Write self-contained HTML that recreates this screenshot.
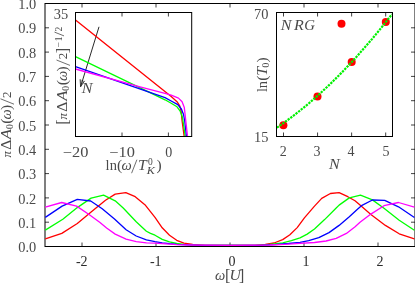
<!DOCTYPE html>
<html><head><meta charset="utf-8"><title>fig</title>
<style>
html,body{margin:0;padding:0;background:#fff;}
svg{display:block;will-change:transform;font-family:"Liberation Serif",serif;font-size:13px;fill:#4a4a4a;}
.it{font-style:italic;}
.c{fill:none;stroke-width:1.3;stroke-linejoin:round;}
.ax{fill:none;stroke:#000;stroke-width:1;}
.tk line{stroke:#000;stroke-width:0.75;}
</style></head><body>
<svg width="415" height="283" viewBox="0 0 415 283">
<rect x="0" y="0" width="415" height="283" fill="#fff"/>
<g class="tk"><line x1="45.0" y1="222.20" x2="49.0" y2="222.20"/><line x1="415.0" y1="222.20" x2="411.0" y2="222.20"/><line x1="45.0" y1="197.90" x2="49.0" y2="197.90"/><line x1="415.0" y1="197.90" x2="411.0" y2="197.90"/><line x1="45.0" y1="173.60" x2="49.0" y2="173.60"/><line x1="415.0" y1="173.60" x2="411.0" y2="173.60"/><line x1="45.0" y1="149.30" x2="49.0" y2="149.30"/><line x1="415.0" y1="149.30" x2="411.0" y2="149.30"/><line x1="45.0" y1="125.00" x2="49.0" y2="125.00"/><line x1="415.0" y1="125.00" x2="411.0" y2="125.00"/><line x1="45.0" y1="100.70" x2="49.0" y2="100.70"/><line x1="415.0" y1="100.70" x2="411.0" y2="100.70"/><line x1="45.0" y1="76.40" x2="49.0" y2="76.40"/><line x1="415.0" y1="76.40" x2="411.0" y2="76.40"/><line x1="45.0" y1="52.10" x2="49.0" y2="52.10"/><line x1="415.0" y1="52.10" x2="411.0" y2="52.10"/><line x1="45.0" y1="27.80" x2="49.0" y2="27.80"/><line x1="415.0" y1="27.80" x2="411.0" y2="27.80"/><line x1="82" y1="246.5" x2="82" y2="242.5"/><line x1="82" y1="3.5" x2="82" y2="7.5"/><line x1="156" y1="246.5" x2="156" y2="242.5"/><line x1="156" y1="3.5" x2="156" y2="7.5"/><line x1="230" y1="246.5" x2="230" y2="242.5"/><line x1="230" y1="3.5" x2="230" y2="7.5"/><line x1="304" y1="246.5" x2="304" y2="242.5"/><line x1="304" y1="3.5" x2="304" y2="7.5"/><line x1="378" y1="246.5" x2="378" y2="242.5"/><line x1="378" y1="3.5" x2="378" y2="7.5"/><line x1="122" y1="136.5" x2="122" y2="132.5"/><line x1="122" y1="12.5" x2="122" y2="16.5"/><line x1="168.4" y1="136.5" x2="168.4" y2="132.5"/><line x1="168.4" y1="12.5" x2="168.4" y2="16.5"/><line x1="283.5" y1="136.5" x2="283.5" y2="132.5"/><line x1="283.5" y1="12.5" x2="283.5" y2="16.5"/><line x1="317.57" y1="136.5" x2="317.57" y2="132.5"/><line x1="317.57" y1="12.5" x2="317.57" y2="16.5"/><line x1="351.63" y1="136.5" x2="351.63" y2="132.5"/><line x1="351.63" y1="12.5" x2="351.63" y2="16.5"/><line x1="385.7" y1="136.5" x2="385.7" y2="132.5"/><line x1="385.7" y1="12.5" x2="385.7" y2="16.5"/></g>
<rect class="ax" x="45.0" y="3.5" width="370.0" height="243.0"/>
<!-- main curves -->
<polyline class="c" stroke="#ff0000" points="45.3,238.8 61.8,233.4 77.3,223.5 91.1,211.9 105.5,200.2 115.2,194.1 125.8,192.6 135.2,196.7 144.9,204.7 155.0,217.4 162.2,227.8 169.5,235.2 176.7,240.3 184.0,243.1 192.7,244.5 205.0,245.3 230.0,245.4 255.0,245.3 265.3,244.3 274.0,243.0 282.7,239.6 289.9,234.8 297.2,227.6 304.4,217.9 314.5,206.1 321.7,198.4 330.4,193.5 339.1,192.6 347.8,196.7 355.0,200.8 360.0,205.1 370.9,214.4 385.4,225.4 399.2,233.8 414.4,238.9"/>
<polyline class="c" stroke="#00ff00" points="45.3,230.1 62.8,219.2 77.3,207.6 91.1,198.1 103.6,195.2 115.2,200.8 123.2,208.0 136.2,221.8 146.4,231.2 150.5,233.4 155.0,235.2 162.2,239.4 169.5,241.9 176.7,243.5 184.0,244.4 192.7,245.0 205.0,245.3 230.0,245.4 255.0,245.3 265.0,244.9 274.0,243.9 282.7,242.8 291.4,240.6 300.0,237.8 307.2,234.1 314.5,229.0 324.6,219.6 336.2,208.0 339.1,205.1 349.3,197.9 360.5,195.2 372.4,199.9 384.0,208.3 399.2,220.3 414.4,230.2"/>
<polyline class="c" stroke="#0000ff" points="45.3,217.4 62.1,206.1 77.3,199.3 90.7,201.0 102.2,208.7 114.5,218.9 126.1,229.7 136.2,236.0 146.4,239.9 155.0,241.6 162.2,242.8 169.5,243.7 176.7,244.3 184.0,244.7 200.0,245.3 230.0,245.4 260.0,245.3 275.0,244.6 288.5,243.5 300.0,242.3 308.7,240.6 318.8,237.7 329.0,232.6 339.1,225.4 349.3,216.7 358.0,208.7 361.5,205.7 372.4,200.0 384.7,200.3 398.5,206.8 414.4,217.5"/>
<polyline class="c" stroke="#ff00ff" points="45.3,207.1 61.7,202.5 76.6,206.1 89.4,214.8 100.0,222.5 106.6,228.0 115.2,234.1 126.1,239.2 136.2,241.6 146.4,242.8 155.0,243.2 162.2,243.7 169.5,244.2 176.7,244.6 190.0,245.0 230.0,245.4 270.0,245.0 285.0,244.4 300.0,243.3 314.5,242.5 326.1,241.0 336.2,238.4 346.4,233.4 355.1,226.8 360.0,222.3 370.9,214.1 384.0,205.7 398.5,202.5 414.4,207.1"/>
<!-- inset 1 -->
<line x1="99" y1="26.8" x2="80.6" y2="86.7" stroke="#111" stroke-width="0.9"/>
<path d="M80.1,79.3 L80.6,86.7 L84.6,80.9" fill="#222" fill-opacity="0.35" stroke="#222" stroke-width="0.8"/>
<polyline class="c" stroke="#ff0000" points="75.5,20.1 171.2,96.6 177.0,101.7 179.9,106.1 181.2,112.0 182.1,121.0 184.1,136.0"/>
<polyline class="c" stroke="#00ff00" points="75.5,56.6 165.0,99.8 171.2,103.2 177.0,106.8 180.2,111.2 182.1,116.2 183.0,121.0 185.2,136.0"/>
<polyline class="c" stroke="#0000ff" points="75.5,66.7 165.0,97.6 171.2,101.0 177.8,104.6 181.4,109.0 183.6,114.8 184.7,121.0 186.4,136.0"/>
<polyline class="c" stroke="#ff00ff" points="75.5,69.0 140.0,86.8 165.0,93.4 171.2,95.2 178.5,98.1 182.1,101.7 184.3,107.5 185.4,117.4 185.8,121.0 187.5,136.0"/>
<rect class="ax" x="75.5" y="12.5" width="116.2" height="124"/>
<text class="it" transform="translate(87.0,93.0) scale(1.15,1)" text-anchor="middle" font-size="14">N</text>
<!-- inset 2 -->
<g fill="#ff0000"><circle cx="283.4" cy="125.2" r="4"/><circle cx="317.5" cy="96.4" r="4"/><circle cx="351.7" cy="62" r="4"/><circle cx="385.8" cy="22" r="4"/><circle cx="341.5" cy="23.7" r="4"/></g>
<polyline fill="none" stroke="#00f000" stroke-width="2.2" stroke-dasharray="2.3 1.0" points="276.9,127.6 280.9,124.9 284.8,122.1 288.8,119.2 292.8,116.2 296.7,113.2 300.7,110.0 304.7,106.8 308.7,103.5 312.6,100.1 316.6,96.6 320.6,93.0 324.5,89.4 328.5,85.6 332.5,81.8 336.4,77.9 340.4,73.9 344.4,69.8 348.3,65.6 352.3,61.4 356.3,57.1 360.2,52.6 364.2,48.1 368.2,43.5 372.2,38.9 376.1,34.1 380.1,29.2 384.1,24.3 388.0,19.3 392.0,14.2"/>
<rect class="ax" x="276.5" y="12.5" width="116" height="124"/>
<!-- labels -->
<text x="36.3" y="252.1" text-anchor="end" textLength="18" font-size="14" lengthAdjust="spacingAndGlyphs">0.0</text><text x="36.3" y="227.8" text-anchor="end" textLength="18" font-size="14" lengthAdjust="spacingAndGlyphs">0.1</text><text x="36.3" y="203.5" text-anchor="end" textLength="18" font-size="14" lengthAdjust="spacingAndGlyphs">0.2</text><text x="36.3" y="179.2" text-anchor="end" textLength="18" font-size="14" lengthAdjust="spacingAndGlyphs">0.3</text><text x="36.3" y="154.9" text-anchor="end" textLength="18" font-size="14" lengthAdjust="spacingAndGlyphs">0.4</text><text x="36.3" y="130.6" text-anchor="end" textLength="18" font-size="14" lengthAdjust="spacingAndGlyphs">0.5</text><text x="36.3" y="106.3" text-anchor="end" textLength="18" font-size="14" lengthAdjust="spacingAndGlyphs">0.6</text><text x="36.3" y="82.0" text-anchor="end" textLength="18" font-size="14" lengthAdjust="spacingAndGlyphs">0.7</text><text x="36.3" y="57.7" text-anchor="end" textLength="18" font-size="14" lengthAdjust="spacingAndGlyphs">0.8</text><text x="36.3" y="33.4" text-anchor="end" textLength="18" font-size="14" lengthAdjust="spacingAndGlyphs">0.9</text><text x="36.3" y="9.1" text-anchor="end" textLength="18" font-size="14" lengthAdjust="spacingAndGlyphs">1.0</text>
<text x="81.8" y="266.2" text-anchor="middle" font-size="14" fill="#2a2a2a">-2</text><text x="155.8" y="266.2" text-anchor="middle" font-size="14" fill="#2a2a2a">-1</text><text x="232.0" y="266.2" text-anchor="middle" font-size="14" fill="#2a2a2a">0</text><text x="306.0" y="266.2" text-anchor="middle" font-size="14" fill="#2a2a2a">1</text><text x="380.0" y="266.2" text-anchor="middle" font-size="14" fill="#2a2a2a">2</text>
<g transform="translate(0,279.8)"><text x="220.1" y="0.0" text-anchor="middle" font-size="14.5" class="it">ω</text><text x="227.6" y="1.5" text-anchor="middle" font-size="16.0">[</text><text transform="translate(235.2,0.0) scale(1.12,1)" text-anchor="middle" font-size="14.0" class="it">U</text><text x="241.6" y="1.5" text-anchor="middle" font-size="16.0">]</text></g>
<g transform="translate(10.6,158.1) rotate(-90)"><text transform="translate(3.8,0.0) scale(0.95,1)" text-anchor="middle" font-size="13.5" class="it">π</text><text transform="translate(13.3,0.0) scale(1.12,1)" text-anchor="middle" font-size="14.0">Δ</text><text transform="translate(24.0,0.0) scale(1.18,1)" text-anchor="middle" font-size="14.0" class="it">A</text><text x="31.4" y="2.2" text-anchor="middle" font-size="9.5">0</text><text x="37.0" y="0.6" text-anchor="middle" font-size="15.5">(</text><text x="43.8" y="0.0" text-anchor="middle" font-size="14.5" class="it">ω</text><text x="50.6" y="0.6" text-anchor="middle" font-size="15.5">)</text><line x1="53.9" y1="3.4" x2="59.3" y2="-10.1" stroke="#4a4a4a" stroke-width="0.8"/><text x="63.4" y="0.0" text-anchor="middle" font-size="13.0">2</text></g>
<text x="68.2" y="18.5" text-anchor="end" font-size="14" textLength="14.4" lengthAdjust="spacingAndGlyphs">35</text>
<g transform="translate(66.6,124.0) rotate(-90)"><text x="1.9" y="1.5" text-anchor="middle" font-size="16.0">[</text><text transform="translate(7.7,0.0) scale(0.95,1)" text-anchor="middle" font-size="13.5" class="it">π</text><text transform="translate(17.3,0.0) scale(1.12,1)" text-anchor="middle" font-size="14.0">Δ</text><text transform="translate(28.2,0.0) scale(1.18,1)" text-anchor="middle" font-size="14.0" class="it">A</text><text x="35.7" y="2.2" text-anchor="middle" font-size="9.5">0</text><text x="41.3" y="0.6" text-anchor="middle" font-size="15.5">(</text><text x="48.2" y="0.0" text-anchor="middle" font-size="14.5" class="it">ω</text><text x="55.2" y="0.6" text-anchor="middle" font-size="15.5">)</text><line x1="58.6" y1="3.4" x2="64.0" y2="-10.1" stroke="#4a4a4a" stroke-width="0.8"/><text x="68.1" y="0.0" text-anchor="middle" font-size="13.0">2</text><text x="73.4" y="1.5" text-anchor="middle" font-size="16.0">]</text><text x="79.1" y="-5.0" text-anchor="middle" font-size="9.5">−</text><text x="85.2" y="-5.0" text-anchor="middle" font-size="9.5">1</text><line x1="88.1" y1="-2.6" x2="91.9" y2="-12.1" stroke="#4a4a4a" stroke-width="0.8"/><text x="94.8" y="-5.0" text-anchor="middle" font-size="9.5">2</text></g>
<text x="75.7" y="156.6" text-anchor="middle" font-size="14" textLength="25.6" lengthAdjust="spacingAndGlyphs">−20</text>
<text x="122.2" y="156.6" text-anchor="middle" font-size="14" textLength="25.6" lengthAdjust="spacingAndGlyphs">−10</text>
<text x="168.7" y="156.6" text-anchor="middle" font-size="14">0</text>
<g transform="translate(0,169.8)"><text x="107.5" y="0.0" text-anchor="middle" font-size="14.5">l</text><text x="113.3" y="0.0" text-anchor="middle" font-size="14.5">n</text><text x="119.6" y="0.6" text-anchor="middle" font-size="15.5">(</text><text x="126.5" y="0.0" text-anchor="middle" font-size="14.5" class="it">ω</text><line x1="131.6" y1="3.4" x2="136.9" y2="-10.1" stroke="#4a4a4a" stroke-width="0.8"/><text transform="translate(142.3,0.0) scale(1.12,1)" text-anchor="middle" font-size="14.0" class="it">T</text><text x="150.4" y="-4.8" text-anchor="middle" font-size="9.5">0</text><text transform="translate(150.8,3.8) scale(1.1,1)" text-anchor="middle" font-size="11.0" class="it">K</text><text x="159.2" y="0.6" text-anchor="middle" font-size="15.5">)</text></g>
<text x="268.4" y="18.5" text-anchor="end" font-size="14" textLength="14.4" lengthAdjust="spacingAndGlyphs">70</text>
<text x="268.4" y="142.2" text-anchor="end" font-size="14" textLength="14.4" lengthAdjust="spacingAndGlyphs">15</text>
<g transform="translate(266.7,92.0) rotate(-90)"><text x="1.9" y="0.0" text-anchor="middle" font-size="14.5">l</text><text x="7.5" y="0.0" text-anchor="middle" font-size="14.5">n</text><text x="13.9" y="0.6" text-anchor="middle" font-size="15.5">(</text><text transform="translate(20.5,0.0) scale(1.12,1)" text-anchor="middle" font-size="14.0" class="it">T</text><text x="26.8" y="2.2" text-anchor="middle" font-size="9.5">0</text><text x="32.2" y="0.6" text-anchor="middle" font-size="15.5">)</text></g>
<text x="283.3" y="156.1" text-anchor="middle" font-size="14">2</text>
<text x="317" y="156.1" text-anchor="middle" font-size="14">3</text>
<text x="351.1" y="156.1" text-anchor="middle" font-size="14">4</text>
<text x="386" y="156.1" text-anchor="middle" font-size="14">5</text>
<text class="it" transform="translate(334.3,169.3) scale(1.15,1)" text-anchor="middle" font-size="14">N</text>
<g transform="translate(0,29.6)"><text transform="translate(286.0,0.0) scale(1.15,1)" text-anchor="middle" font-size="14.0" class="it">N</text><text transform="translate(298.8,0.0) scale(1.15,1)" text-anchor="middle" font-size="14.0" class="it">R</text><text transform="translate(309.7,0.0) scale(1.06,1)" text-anchor="middle" font-size="14.0" class="it">G</text></g>
</svg>
</body></html>
